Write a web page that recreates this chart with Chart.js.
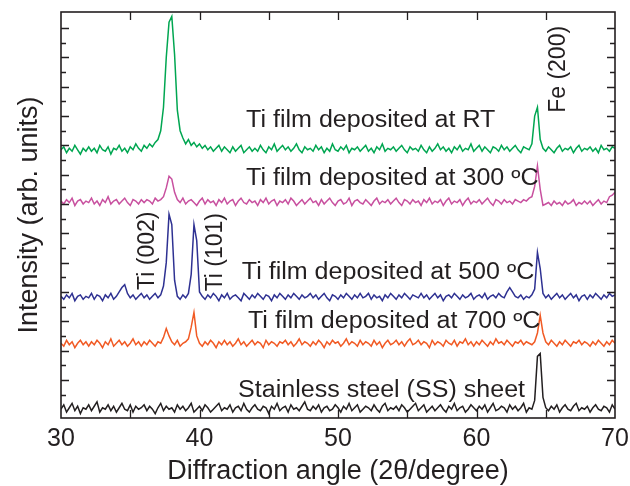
<!DOCTYPE html>
<html>
<head>
<meta charset="utf-8">
<script src="https://cdn.jsdelivr.net/npm/chart.js@4"></script>
<style>
  body { margin: 0; background: #fff; }
</style>
</head>
<body>
<canvas id="xrd" width="630" height="486"></canvas>
<script>
// 2theta grid, 0.2 degree steps
const angles = [
  30,30.2,30.4,30.6,30.8,31,31.2,31.4,31.6,31.8,
  32,32.2,32.4,32.6,32.8,33,33.2,33.4,33.6,33.8,
  34,34.2,34.4,34.6,34.8,35,35.2,35.4,35.6,35.8,
  36,36.2,36.4,36.6,36.8,37,37.2,37.4,37.6,37.8,
  38,38.2,38.4,38.6,38.8,39,39.2,39.4,39.6,39.8,
  40,40.2,40.4,40.6,40.8,41,41.2,41.4,41.6,41.8,
  42,42.2,42.4,42.6,42.8,43,43.2,43.4,43.6,43.8,
  44,44.2,44.4,44.6,44.8,45,45.2,45.4,45.6,45.8,
  46,46.2,46.4,46.6,46.8,47,47.2,47.4,47.6,47.8,
  48,48.2,48.4,48.6,48.8,49,49.2,49.4,49.6,49.8,
  50,50.2,50.4,50.6,50.8,51,51.2,51.4,51.6,51.8,
  52,52.2,52.4,52.6,52.8,53,53.2,53.4,53.6,53.8,
  54,54.2,54.4,54.6,54.8,55,55.2,55.4,55.6,55.8,
  56,56.2,56.4,56.6,56.8,57,57.2,57.4,57.6,57.8,
  58,58.2,58.4,58.6,58.8,59,59.2,59.4,59.6,59.8,
  60,60.2,60.4,60.6,60.8,61,61.2,61.4,61.6,61.8,
  62,62.2,62.4,62.6,62.8,63,63.2,63.4,63.6,63.8,
  64,64.2,64.4,64.6,64.8,65,65.2,65.4,65.6,65.8,
  66,66.2,66.4,66.6,66.8,67,67.2,67.4,67.6,67.8,
  68,68.2,68.4,68.6,68.8,69,69.2,69.4,69.6,69.8,70
];

// intensities (arb. units, already stacked)
const filmRT = [
  177,179,175,178,176,180,177,174,178,176,
  179,176,178,175,180,177,176,179,174,178,
  177,180,176,178,175,179,177,181,178,176,
  180,178,181,179,182,184,190,206,240,264,
  268,242,204,190,185,181,184,180,182,179,
  181,178,180,177,179,176,178,180,176,179,
  177,175,179,176,178,180,175,177,179,176,
  178,176,180,177,175,179,177,181,176,178,
  180,177,179,176,178,181,177,175,179,177,
  178,176,180,177,179,175,178,176,181,177,
  176,179,177,180,175,178,177,179,176,178,
  180,176,178,175,179,177,181,176,178,177,
  179,176,178,180,177,175,179,177,178,176,
  180,177,175,179,176,178,181,177,179,176,
  178,175,179,177,180,176,178,177,181,176,
  178,180,176,179,177,175,179,178,176,180,
  177,179,176,178,180,177,175,179,178,177,
  181,200,206,184,178,176,179,177,175,178,
  180,176,178,177,179,175,178,180,176,178,
  177,179,176,178,175,180,177,178,176,179,178
];
const film300 = [
  142,140,143,141,144,139,142,143,140,142,
  141,144,140,142,139,143,141,145,140,142,
  143,140,142,144,141,139,143,142,140,143,
  141,143,142,140,144,142,143,145,151,159,
  157,148,143,141,144,140,142,143,141,139,
  142,144,140,143,141,142,139,143,141,144,
  140,142,143,139,142,144,141,140,143,141,
  142,139,143,141,144,140,142,143,139,142,
  141,143,140,144,142,139,141,143,140,142,
  144,141,142,139,143,140,142,144,141,139,
  142,143,140,141,144,139,142,143,141,140,
  143,141,139,142,144,140,142,141,143,140,
  142,144,141,139,143,142,140,143,141,142,
  139,143,141,144,140,142,141,143,139,142,
  144,140,142,141,143,139,142,144,140,142,
  141,143,140,142,144,141,139,143,142,140,
  143,141,142,140,143,142,141,143,142,144,
  145,152,166,150,139,140,141,139,142,140,
  141,139,142,140,141,143,139,141,140,142,
  140,142,139,141,143,140,142,141,145,146,148
];
const film500 = [
  77,75,78,76,79,74,77,78,75,77,
  76,79,75,78,77,74,78,76,79,75,
  77,80,83,85,79,76,78,75,77,79,
  76,78,75,77,79,76,78,84,100,133,
  126,88,77,75,78,76,79,92,126,115,
  80,77,75,78,76,79,77,74,78,76,
  79,75,77,78,76,74,79,77,75,78,
  76,79,77,75,78,77,74,78,76,79,
  77,75,78,76,79,77,75,78,76,77,
  79,76,78,75,77,79,76,74,78,77,
  75,78,76,79,77,75,78,76,79,76,
  77,79,75,78,76,77,74,78,76,79,
  77,75,78,76,79,77,75,78,77,76,
  79,76,78,75,77,79,76,78,74,77,
  78,76,79,77,75,78,76,77,79,75,
  77,78,76,79,75,77,78,76,79,77,
  76,80,83,80,77,76,78,75,77,76,
  78,82,107,96,79,76,78,75,77,79,
  76,78,75,77,79,76,78,74,77,78,
  75,78,76,79,77,75,78,76,79,77,78
];
const film700 = [
  45,43,47,44,46,42,45,47,44,46,
  43,46,44,47,45,42,46,44,48,43,
  45,47,44,46,43,45,48,44,46,43,
  46,44,47,45,43,46,45,49,55,50,
  46,44,47,43,45,46,48,56,66,50,
  45,43,46,44,47,45,42,46,44,47,
  44,46,43,45,48,44,46,43,45,47,
  44,46,45,42,47,44,46,45,43,46,
  45,47,44,46,43,45,48,44,46,45,
  43,46,44,47,45,42,46,44,47,45,
  46,43,45,48,44,46,45,43,47,44,
  46,45,43,47,44,46,42,45,47,44,
  45,47,44,46,43,46,48,44,45,47,
  44,46,45,42,47,44,46,45,43,47,
  45,44,47,43,46,45,48,44,46,43,
  46,44,47,45,43,46,44,48,45,46,
  44,47,45,43,46,45,47,44,46,45,
  44,46,52,64,52,46,44,47,45,43,
  46,44,47,45,43,46,45,47,44,46,
  45,43,46,44,47,45,43,46,44,47,45
];
const steelSheet = [
  0,3,-2,1,4,-1,2,-3,1,0,
  3,-1,2,5,-2,1,0,3,-1,2,
  -2,1,4,0,-1,3,-2,2,0,1,
  3,-1,2,0,-3,1,4,-1,2,0,
  1,-2,3,0,2,-1,1,4,-2,0,
  2,-1,3,1,-2,0,2,4,-1,1,
  0,3,-2,1,2,-1,4,0,-2,1,
  3,0,-1,2,1,-3,2,0,4,-1,
  1,2,-2,3,0,1,-1,2,5,0,
  -1,2,0,3,-2,1,2,-1,0,3,
  1,-2,2,0,4,-1,1,3,-2,0,
  2,1,-1,3,0,-2,2,4,-1,1,
  0,2,-1,3,1,-2,0,2,4,-1,
  1,3,-2,0,2,-1,1,3,0,-2,
  2,0,4,-1,1,2,-2,0,3,1,
  -1,2,0,3,-2,1,4,-1,0,2,
  1,-2,3,0,2,-1,1,4,-2,1,
  0,6,36,38,8,1,-1,2,0,3,
  -2,1,3,0,-1,2,4,-1,1,0,
  2,-2,1,3,0,-1,2,1,-2,3,0
];

const seriesNames = ['RT', '300', '500', '700', 'SS'];
const seriesColors = ['#00a651', '#c8509f', '#2e3192', '#f15a24', '#231f20'];
const seriesValues = [filmRT, film300, film500, film700, steelSheet];

// text labels placed in data coordinates (angle, intensity)
const labelTexts = [
  'Ti film deposited at RT',
  'Ti film deposited at 300 ºC',
  'Ti film deposited at 500 ºC',
  'Ti film deposited at 700 ºC',
  'Stainless steel (SS) sheet',
  'Ti (002)',
  'Ti (101)',
  'Fe (200)'
];
const labelAngles = [43.36, 43.36, 43.05, 43.5, 42.78, 36.75, 41.62, 66.39];
const labelLevels = [192.4, 153.1, 88.7, 55.6, 8.5, 81.4, 80.4, 202.2];
const labelVertical = [false, false, false, false, false, true, true, true];

const ink = '#231f20';
const fontFamily = '"Liberation Sans", Arial, Helvetica, sans-serif';

// frame + inward tick marks
const frameTicks = {
  id: 'frameTicks',
  afterDatasetsDraw(chart) {
    const {ctx, chartArea: a, scales} = chart;
    ctx.save();
    ctx.strokeStyle = ink;
    ctx.lineWidth = 1.3;
    scales.x.ticks.forEach(t => {
      const px = Math.round(scales.x.getPixelForValue(t.value)) + 0.5;
      if (px < a.left + 3 || px > a.right - 3) return;
      ctx.beginPath();
      ctx.moveTo(px, a.bottom); ctx.lineTo(px, a.bottom - 8);
      ctx.moveTo(px, a.top); ctx.lineTo(px, a.top + 8);
      ctx.stroke();
    });
    scales.y.ticks.forEach(t => {
      const py = Math.round(scales.y.getPixelForValue(t.value)) + 0.5;
      if (py < a.top + 3 || py > a.bottom - 3) return;
      const len = t.value % 20 === 0 ? 8 : 5;
      ctx.beginPath();
      ctx.moveTo(a.left, py); ctx.lineTo(a.left + len, py);
      ctx.moveTo(a.right, py); ctx.lineTo(a.right - len, py);
      ctx.stroke();
    });
    ctx.lineWidth = 1.6;
    ctx.strokeRect(a.left, a.top, a.right - a.left, a.bottom - a.top);
    ctx.restore();
  }
};

const peakLabels = {
  id: 'peakLabels',
  afterDraw(chart) {
    const {ctx, scales} = chart;
    ctx.save();
    ctx.fillStyle = ink;
    ctx.textBaseline = 'alphabetic';
    ctx.textAlign = 'left';
    labelTexts.forEach((txt, i) => {
      const px = scales.x.getPixelForValue(labelAngles[i]);
      const py = scales.y.getPixelForValue(labelLevels[i]);
      ctx.save();
      ctx.translate(px, py);
      ctx.font = '23px ' + fontFamily;
      if (labelVertical[i]) {
        ctx.rotate(-Math.PI / 2);
      } else {
        ctx.scale(1.09, 1);
      }
      ctx.fillText(txt, 0, 0);
      ctx.restore();
    });
    ctx.restore();
  }
};

const datasets = seriesValues.map((vals, i) => ({
  label: seriesNames[i],
  data: vals.map((v, j) => ({x: angles[j], y: v})),
  borderColor: seriesColors[i],
  borderWidth: 1.5,
  pointRadius: 0,
  tension: 0,
  fill: false
}));

new Chart(document.getElementById('xrd'), {
  type: 'line',
  data: { datasets },
  options: {
    responsive: false,
    animation: false,
    events: [],
    layout: { padding: { top: 12, right: 15, left: 0, bottom: 0 } },
    plugins: { legend: { display: false }, tooltip: { enabled: false } },
    scales: {
      x: {
        type: 'linear',
        min: 30,
        max: 70,
        afterFit: s => { s.height = 68; s.paddingLeft = 0; s.paddingRight = 0; },
        grid: { display: false, drawTicks: false },
        border: { display: false },
        ticks: {
          stepSize: 5,
          autoSkip: false,
          maxRotation: 0,
          padding: 6,
          color: ink,
          font: { size: 25, family: fontFamily },
          callback: v => (v % 10 === 0 ? v : '')
        },
        title: {
          display: true,
          text: 'Diffraction angle (2θ/degree)',
          color: ink,
          font: { size: 27, family: fontFamily, lineHeight: 1 },
          padding: { top: 0, bottom: 1 }
        }
      },
      y: {
        min: -6,
        max: 271,
        afterFit: s => { s.width = 61; },
        grid: { display: false, drawTicks: false },
        border: { display: false },
        ticks: { display: false, stepSize: 10 },
        title: {
          display: true,
          text: 'Intensity (arb. units)',
          color: ink,
          font: { size: 27, family: fontFamily, lineHeight: 1 },
          padding: { top: 16, bottom: 0 }
        }
      }
    }
  },
  plugins: [frameTicks, peakLabels]
});
</script>
</body>
</html>
